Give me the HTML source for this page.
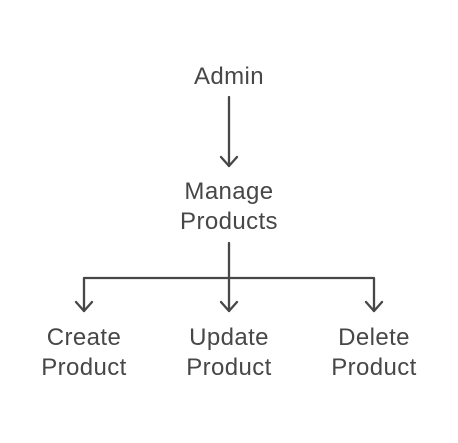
<!DOCTYPE html>
<html><head><style>
html,body{margin:0;padding:0;background:#fff;}
svg{display:block;}
text{font-family:"Liberation Sans",Arial,sans-serif;font-size:24px;letter-spacing:0.4px;fill:#474747;}
</style></head><body>
<svg width="458" height="443" viewBox="0 0 458 443" xmlns="http://www.w3.org/2000/svg">
<rect width="458" height="443" fill="#fff"/>
<g stroke="#474747" stroke-width="2.3" fill="none" stroke-linecap="round" stroke-linejoin="round">
<line x1="229" y1="97" x2="229" y2="166"/>
<polyline points="221,157 229,166 237,157"/>
<line x1="229" y1="243" x2="229" y2="311"/>
<polyline points="84,311 84,278 374,278 374,311"/>
<polyline points="76,302 84,311 92,302"/>
<polyline points="221,302 229,311 237,302"/>
<polyline points="366,302 374,311 382,302"/>
</g>
<g text-anchor="middle">
<text x="229" y="84">Admin</text>
<text x="229" y="199">Manage</text>
<text x="229" y="229">Products</text>
<text x="84" y="345">Create</text>
<text x="84" y="375">Product</text>
<text x="229" y="345">Update</text>
<text x="229" y="375">Product</text>
<text x="374" y="345">Delete</text>
<text x="374" y="375">Product</text>
</g>
</svg>
</body></html>
